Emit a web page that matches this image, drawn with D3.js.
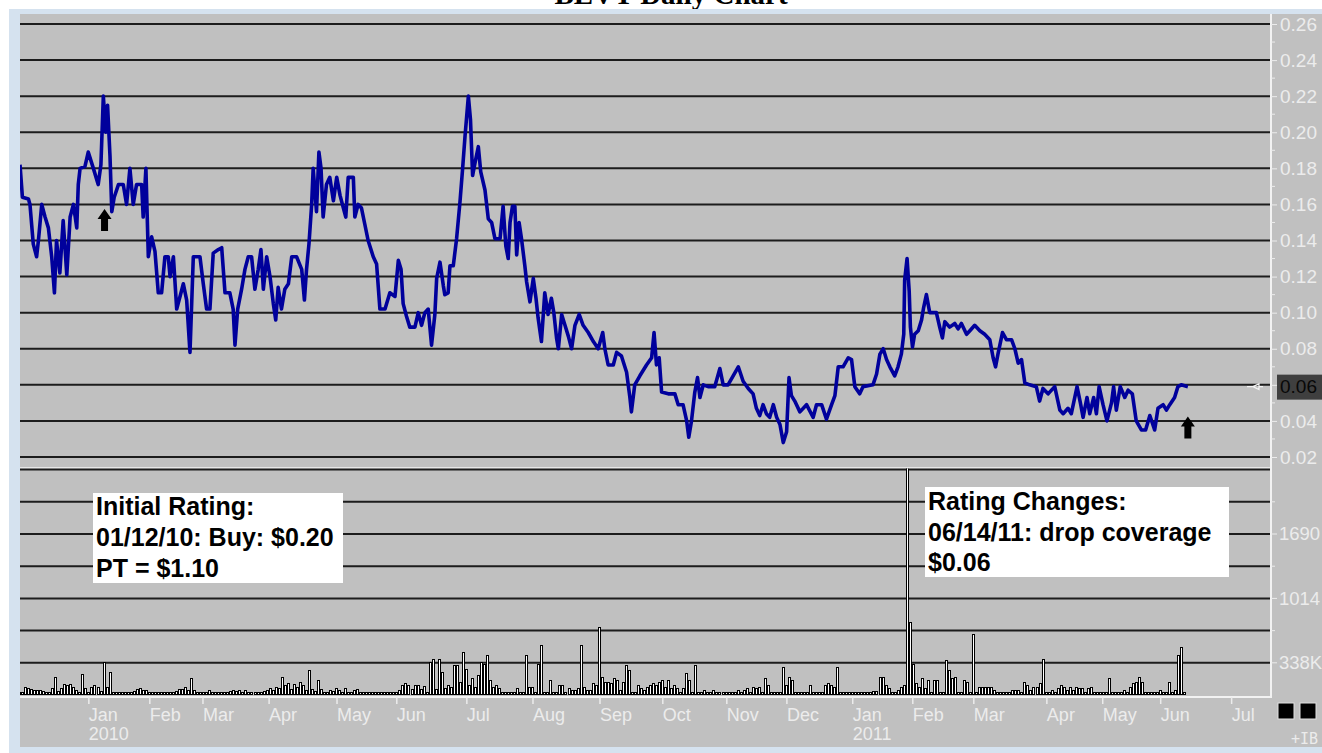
<!DOCTYPE html>
<html><head><meta charset="utf-8">
<script src="https://cdn.jsdelivr.net/npm/d3@7"></script>
<style>body{margin:0;background:#fff;} svg{display:block;}</style>
</head><body><svg id="c" width="1322" height="753"></svg>
<script>
// ---------- DATA ----------
const title = "BEVT Daily Chart";
// price path vertices: trading-day index and closing price (USD)
const priceDay = [0,0.8,2.8,3.3,4.4,5.5,6.1,7.2,8.3,9.4,10.5,11.4,12.1,13.2,14.3,15.5,16.6,17.7,18.8,19.3,19.9,21.5,22.6,24.3,25.9,26.8,27.6,28.4,29,29.8,30.4,31.2,32.6,34.2,35.3,36.4,37.5,38.6,40.3,40.8,41.7,42.5,43.6,44.7,45.8,46.9,48,49.1,49.7,50.8,51.9,53,54.1,55.2,56.3,57.4,58.5,59.6,60.7,61.8,62.9,64,65.7,66.8,67.9,69.5,70.6,71.2,72.1,73.4,74.5,75.6,76.7,77.8,78.9,79.8,80.6,81.7,82.8,83.9,84.7,85.5,86.6,87.7,88.9,90,91.6,93.3,94.2,94.9,95.7,96.6,97.1,98.2,99,99.7,100.4,101.5,102.6,103.8,104.9,106,107.1,107.9,108.7,110.4,110.9,112,113.1,114.2,115.3,117,118.1,119.2,120.9,122.5,124.2,125.3,126.2,126.9,128,129.1,130.8,131.9,133,134.1,135.2,136.3,
137.4,138,139.1,140.2,140.7,141.8,142.4,143.5,144.6,145.7,146.6,147.4,148.5,149.2,149.9,150.7,151.8,152.6,154,155.1,156.2,157.3,159,160,160.9,161.7,162.3,163.1,163.9,164.5,165.3,166.1,167.2,167.8,168.9,170,170.9,171.6,172.7,173.8,174.9,176,176.8,177.7,178.3,179.4,180.5,181.6,182.7,183.8,185.2,186.5,188.2,189.9,191.5,193,193.7,194.8,196.5,197.6,199.2,200.9,202,202.5,203.6,205.3,207.5,209.2,210,210.8,211.7,212.5,214.7,216.9,218,219.6,220.8,221.5,222.4,223.5,224.4,225.2,226.3,227.9,230.1,231.8,232.9,234.5,236.2,237.9,239.5,241.2,242.8,243.9,245,246.1,247.2,248.3,249.5,250.6,251.7,252.8,253.9,254.7,255.5,256.6,258.3,260.5,262.7,263.8,265.5,267.1,268.8,269.9,271,
271.5,272.6,274.3,275.4,276.5,278.1,279.2,282.5,283.7,284.8,285.9,287,288.1,289.7,290.8,291.9,292.7,293,293.8,294.5,294.9,295.6,296.3,297.5,298.6,299.3,300.2,301.3,303.5,304.6,305.5,306.3,307.9,309.6,310.7,311.8,313.5,314.6,316.2,317.9,319.5,321.2,322.3,323.1,323.9,325.4,326.7,328.4,329.5,330.6,331.7,332.8,334.4,336.6,337.7,338.8,340.5,342.7,344.4,345.5,347.1,348.2,350.1,351.2,352.1,353.4,354.3,355.6,356.5,357.4,358.7,360,361.5,362.2,363.1,364.4,365.9,367,368.4,369.7,371.4,372.8,374.2,375,375.8,376.9,378.6,379.7,380.8,382.4,383.5,384.6,386.8];
const priceVal = [0.182,0.164,0.163,0.160,0.138,0.131,0.140,0.160,0.153,0.147,0.131,0.111,0.140,0.122,0.151,0.121,0.153,0.160,0.147,0.171,0.180,0.181,0.189,0.180,0.171,0.182,0.220,0.200,0.215,0.187,0.156,0.164,0.171,0.171,0.160,0.180,0.160,0.171,0.171,0.153,0.180,0.131,0.142,0.134,0.111,0.111,0.131,0.131,0.120,0.131,0.102,0.109,0.116,0.107,0.078,0.131,0.131,0.131,0.116,0.102,0.102,0.133,0.135,0.136,0.111,0.111,0.102,0.082,0.102,0.113,0.124,0.131,0.131,0.113,0.124,0.135,0.113,0.131,0.120,0.105,0.096,0.114,0.102,0.113,0.116,0.131,0.131,0.124,0.107,0.124,0.138,0.160,0.180,0.156,0.189,0.180,0.153,0.171,0.175,0.162,0.175,0.165,0.158,0.153,0.175,0.175,0.153,0.160,0.158,0.149,0.140,0.131,0.127,0.102,0.102,0.111,0.109,0.129,0.124,0.105,0.098,0.092,0.092,0.100,0.093,0.100,0.102,0.082,
0.099,0.119,0.128,0.115,0.110,0.111,0.126,0.126,0.141,0.161,0.180,0.198,0.220,0.207,0.176,0.183,0.192,0.178,0.168,0.152,0.150,0.141,0.141,0.159,0.137,0.130,0.150,0.159,0.159,0.132,0.150,0.141,0.126,0.117,0.106,0.119,0.108,0.097,0.084,0.111,0.099,0.108,0.100,0.086,0.080,0.099,0.093,0.087,0.080,0.093,0.099,0.093,0.089,0.084,0.080,0.089,0.080,0.071,0.071,0.078,0.076,0.067,0.053,0.045,0.060,0.065,0.071,0.075,0.089,0.071,0.075,0.056,0.055,0.055,0.049,0.049,0.040,0.031,0.040,0.056,0.064,0.053,0.060,0.059,0.059,0.069,0.060,0.060,0.065,0.070,0.062,0.058,0.055,0.047,0.043,0.049,0.044,0.042,0.049,0.042,0.038,0.028,0.034,0.064,0.054,0.051,0.045,0.049,0.042,0.049,0.049,0.041,0.049,0.054,0.070,
0.070,0.070,0.075,0.074,0.059,0.055,0.059,0.060,0.066,0.077,0.080,0.074,0.070,0.065,0.070,0.077,0.088,0.118,0.130,0.112,0.092,0.081,0.088,0.090,0.096,0.103,0.110,0.100,0.100,0.092,0.086,0.095,0.092,0.094,0.091,0.094,0.088,0.090,0.093,0.090,0.088,0.085,0.075,0.070,0.077,0.089,0.085,0.085,0.080,0.072,0.074,0.061,0.060,0.059,0.051,0.058,0.055,0.059,0.046,0.044,0.047,0.044,0.059,0.050,0.042,0.053,0.044,0.053,0.044,0.059,0.049,0.040,0.050,0.059,0.046,0.059,0.053,0.057,0.055,0.040,0.035,0.035,0.043,0.039,0.035,0.047,0.049,0.046,0.049,0.053,0.059,0.060,0.059];
// daily volume, thousands of shares, one per trading day (index = day)
const volumeK = [35,35,85,70,60,50,50,50,45,35,35,70,190,40,70,120,105,120,85,50,35,225,70,35,85,105,85,40,350,85,245,17,17,20,25,35,25,35,45,60,70,55,55,30,20,20,10,10,10,10,10,20,40,60,60,80,50,175,55,20,25,15,35,50,20,10,5,0,15,0,45,50,45,50,35,50,30,25,35,30,25,40,55,70,50,85,70,190,110,130,60,120,85,140,100,50,260,60,40,155,60,25,30,50,40,70,55,30,70,25,20,50,65,35,15,10,10,15,10,10,10,15,10,15,20,30,50,100,125,100,60,100,110,60,90,30,350,380,60,
383,244,70,104,87,313,313,139,452,278,104,174,87,209,348,330,418,157,87,104,70,35,17,17,17,17,70,35,17,418,87,87,17,330,522,17,35,157,35,35,104,104,35,70,52,52,70,522,87,52,52,122,104,713,191,139,139,122,174,157,52,139,313,261,17,17,104,70,52,87,104,122,104,139,157,87,157,70,104,70,35,70,226,157,35,313,17,17,52,17,35,52,35,17,17,17,17,10,17,52,17,52,70,35,87,70,87,35,174,104,17,17,35,35,296,104,191,157,17,17,10,10,17,104,10,35,17,17,104,122,104,87,296,28,28,28,10,10,28,28,28,10,17,35,42,42,
191,191,104,70,17,35,52,87,104,2500,765,330,122,87,174,70,157,35,157,157,35,17,365,261,174,191,35,17,157,139,17,644,17,87,87,87,87,87,52,10,10,7,7,10,52,52,52,17,139,104,52,87,87,122,383,35,35,52,17,70,104,87,52,87,52,87,70,70,17,70,87,17,10,10,10,10,174,10,35,17,10,52,17,87,122,139,191,139,17,17,10,10,10,52,10,10,139,10,52,418,505,10];
const monthDay   = [22.8,43,60.6,82.5,105,124.8,148,169.9,192.1,212.9,234.1,254,275.8,295.7,315.9,340.1,358.6,377.8,401.3];
const monthLabel = ["Jan","Feb","Mar","Apr","May","Jun","Jul","Aug","Sep","Oct","Nov","Dec","Jan","Feb","Mar","Apr","May","Jun","Jul"];
const yearLabel  = ["2010","","","","","","","","","","","","2011","","","","","",""];
const priceTicks = [0.02,0.04,0.06,0.08,0.10,0.12,0.14,0.16,0.18,0.20,0.22,0.24,0.26];
const volTicks   = [338,676,1014,1352,1690,2028,2366];
const volLabelVals = [338,1014,1690];
const volLabelText = ["338K","1014","1690"];
const arrowDay = [28,386.8];
const arrowTip = [0.1575,0.0425];
const note1 = ["Initial Rating:","01/12/10: Buy: $0.20","PT = $1.10"];
const note2 = ["Rating Changes:","06/14/11: drop coverage","$0.06"];
const lastPriceLabel = "0.06";

// ---------- LAYOUT ----------
const svg = d3.select("#c");
const W = 1322, H = 753;
const L = 20, R = 1270, pTop = 14, pBot = 467, vTop = 469.6, vBot = 695;
const x = d3.scaleLinear().domain([0, 414]).range([L, R]);
const yP = d3.scaleLinear().domain([0.02, 0.26]).range([457, 24]);
const yV = d3.scaleLinear().domain([0, 2366]).range([vBot, vTop]);
const font = "'Liberation Sans', Arial, sans-serif";
const axisCol = "#ececec";

svg.append("rect").attr("width", W).attr("height", H).attr("fill", "#fff");
svg.append("text").attr("x", 671).attr("y", 4).attr("text-anchor", "middle")
  .attr("font-family", "'Liberation Serif','Times New Roman',serif").attr("font-weight", "bold")
  .attr("font-size", 29).attr("fill", "#000").text(title);
svg.append("rect").attr("x", 9).attr("y", 9).attr("width", W - 9).attr("height", H - 9).attr("fill", "#d5e2ef");
svg.append("rect").attr("x", L).attr("y", pTop).attr("width", W - L).attr("height", 747 - pTop).attr("fill", "#c0c0c0");

const defs = svg.append("defs");
defs.append("clipPath").attr("id", "cp").append("rect").attr("x", L).attr("y", pTop).attr("width", R - L).attr("height", pBot - pTop);
defs.append("clipPath").attr("id", "cv").append("rect").attr("x", L).attr("y", vTop - 1).attr("width", R - L).attr("height", vBot - vTop + 2);

// price grid
svg.append("g").selectAll("line").data(priceTicks).join("line")
  .attr("x1", L).attr("x2", R).attr("y1", d => yP(d)).attr("y2", d => yP(d))
  .attr("stroke", "#1c1c1c").attr("stroke-width", 2);
// separator
svg.append("line").attr("x1", L).attr("x2", R).attr("y1", 468).attr("y2", 468).attr("stroke", "#f4f4f4").attr("stroke-width", 1.5);
// volume grid
svg.append("g").selectAll("line").data(volTicks).join("line")
  .attr("x1", L).attr("x2", R).attr("y1", d => yV(d)).attr("y2", d => yV(d))
  .attr("stroke", "#1c1c1c").attr("stroke-width", 2);

// volume bars
svg.append("g").attr("clip-path", "url(#cv)").attr("shape-rendering", "crispEdges")
  .selectAll("rect").data(volumeK).join("rect")
  .attr("x", (d, i) => Math.round(x(i)) - 1.5).attr("width", 2)
  .attr("y", d => Math.min(Math.round(yV(d)) + 0.5, vBot - 2.5))
  .attr("height", d => Math.max(2, Math.round(vBot - yV(d)) - 1))
  .attr("fill", "#fff").attr("stroke", "#000").attr("stroke-width", 1);

// price line
const pts = priceDay.map((d, i) => [d, priceVal[i]]);
svg.append("path").attr("clip-path", "url(#cp)").datum(pts)
  .attr("d", d3.line().x(d => x(d[0])).y(d => yP(d[1])))
  .attr("fill", "none").attr("stroke", "#00009c").attr("stroke-width", 3.6).attr("stroke-linejoin", "round");

// arrows
arrowDay.forEach((d, i) => {
  const cx = x(d), ty = yP(arrowTip[i]);
  svg.append("path").attr("d", `M${cx},${ty} L${cx + 7},${ty + 10} L${cx + 3.5},${ty + 10} L${cx + 3.5},${ty + 22} L${cx - 3.5},${ty + 22} L${cx - 3.5},${ty + 10} L${cx - 7},${ty + 10} Z`)
    .attr("fill", "#000");
});

// axes lines
svg.append("line").attr("x1", L).attr("x2", R + 1).attr("y1", 697).attr("y2", 697).attr("stroke", "#f2f2f2").attr("stroke-width", 2);
svg.append("line").attr("x1", R + 1).attr("x2", R + 1).attr("y1", pTop).attr("y2", 698).attr("stroke", "#f2f2f2").attr("stroke-width", 2);

// right price axis
const pAxis = d3.axisRight(yP).tickValues(priceTicks).tickFormat(d3.format(".2f")).tickSize(6).tickPadding(3);
const gP = svg.append("g").attr("transform", `translate(${R + 1},0)`).call(pAxis);
gP.select(".domain").remove();
gP.selectAll("line").attr("stroke", axisCol);
gP.selectAll("text").attr("fill", axisCol).attr("font-family", font).attr("font-size", 19);
// minor price ticks
svg.append("g").selectAll("line").data(priceTicks.slice(0, -1).map(v => v + 0.01)).join("line")
  .attr("x1", R + 1).attr("x2", R + 5).attr("y1", d => yP(d)).attr("y2", d => yP(d)).attr("stroke", axisCol);

// right volume axis
svg.append("g").selectAll("line").data(volTicks.slice(0, -1)).join("line")
  .attr("x1", R + 1).attr("x2", d => volLabelVals.includes(d) ? R + 7 : R + 5)
  .attr("y1", d => yV(d)).attr("y2", d => yV(d)).attr("stroke", axisCol);
svg.append("g").selectAll("text").data(volLabelVals).join("text")
  .attr("x", R + 9).attr("y", d => yV(d)).attr("dy", "0.35em")
  .attr("fill", axisCol).attr("font-family", font).attr("font-size", 18.5)
  .text((d, i) => volLabelText[i]);

// last price box
const lastY = yP(priceVal[priceVal.length - 1]);
svg.append("rect").attr("x", 1277).attr("y", lastY - 12).attr("width", 50).attr("height", 25).attr("fill", "#3f3f3f");
svg.append("text").attr("x", 1280).attr("y", lastY).attr("dy", "0.35em").attr("font-family", font).attr("font-size", 19)
  .attr("fill", "#080808").text(lastPriceLabel);
svg.append("path").attr("d", `M${1247},${lastY} L${1253},${lastY} M${1253},${lastY} L${1259},${lastY - 3} L${1259},${lastY + 3} Z M${1259},${lastY} L${1263},${lastY}`)
  .attr("fill", "none").attr("stroke", "#f4f4f4").attr("stroke-width", 1.2);

// month axis
const gM = svg.append("g");
gM.selectAll("line").data(monthDay).join("line")
  .attr("x1", d => x(d)).attr("x2", d => x(d)).attr("y1", 697).attr("y2", 704).attr("stroke", axisCol).attr("stroke-width", 1.5);
gM.selectAll("text.m").data(monthDay).join("text").attr("class", "m")
  .attr("x", d => x(d)).attr("y", 721).attr("fill", axisCol).attr("font-family", font).attr("font-size", 18)
  .text((d, i) => monthLabel[i]);
gM.selectAll("text.yr").data(monthDay.filter((d, i) => yearLabel[i])).join("text").attr("class", "yr")
  .attr("x", d => x(d)).attr("y", 740).attr("fill", axisCol).attr("font-family", font).attr("font-size", 18)
  .text(d => yearLabel[monthDay.indexOf(d)]);

// corner icons
[1278, 1300].forEach(px => {
  svg.append("rect").attr("x", px).attr("y", 703).attr("width", 16).attr("height", 16).attr("fill", "#000").attr("stroke", "#e0e0e0").attr("stroke-width", 1);
});
svg.append("text").attr("x", 1318).attr("y", 744).attr("text-anchor", "end").attr("font-family", "'DejaVu Sans Mono', monospace")
  .attr("font-size", 15).attr("fill", axisCol).text("+IB");

// annotations
function note(lines, bx, by, bw, bh, first, step) {
  svg.append("rect").attr("x", bx).attr("y", by).attr("width", bw).attr("height", bh).attr("fill", "#fff");
  svg.append("g").selectAll("text").data(lines).join("text")
    .attr("x", bx + 3).attr("y", (d, i) => by + first + i * step)
    .attr("font-family", font).attr("font-weight", "bold").attr("font-size", 25).attr("fill", "#000")
    .text(d => d);
}
note(note1, 93, 493, 250, 90, 22, 31);
note(note2, 925, 487, 304, 90, 23, 30.5);
</script></body></html>
